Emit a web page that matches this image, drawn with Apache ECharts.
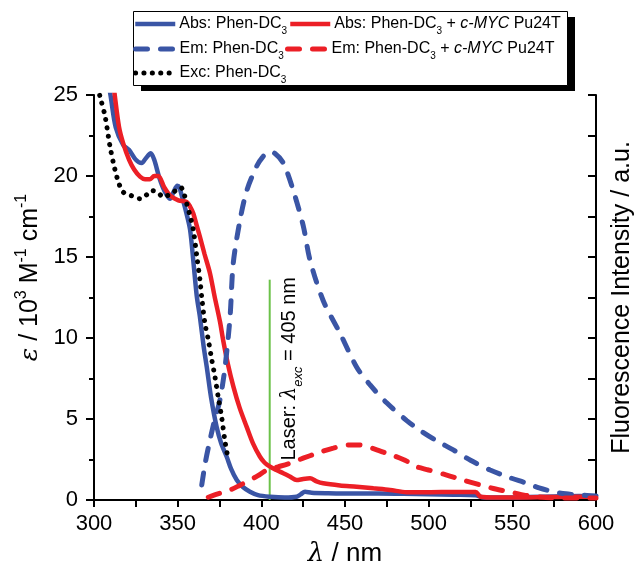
<!DOCTYPE html>
<html>
<head>
<meta charset="utf-8">
<script src="https://cdn.jsdelivr.net/npm/echarts@6/dist/echarts.min.js"></script>
<style>
html,body{margin:0;padding:0;background:#fff;}
#c{width:638px;height:564px;}
</style>
</head>
<body>
<div id="c"></div>
<script>
// ---- data (wavelength nm, value) ----
const absPhen = [[305,28],[310,24.9],[313,23.0],[317.5,21.9],[321,21.6],[325,21.0],[328.5,20.8],[331,21.1],[333.9,21.4],[336,21.0],[339,19.9],[342,19.1],[345.4,18.6],[347.5,19.0],[349.8,19.4],[351,19.3],[352.4,18.8],[355,17.8],[357.4,16.7],[359.5,14.6],[361.4,12.6],[363.3,11.3],[365.5,9.5],[367.4,8.2],[370,6.3],[373.3,4.5],[376,3.5],[379.3,2.67],[382,1.9],[385.3,1.23],[389,0.8],[393.2,0.51],[398,0.3],[405.2,0.2],[414,0.15],[421.1,0.2],[423.5,0.35],[426.1,0.51],[430,0.45],[440,0.42],[455,0.4],[470,0.4],[485,0.38],[500,0.36],[515,0.33],[528,0.3],[533,0.15],[545,0.15],[560,0.18],[575,0.22],[590,0.25],[600,0.22]];
const absComplex = [[309,28],[312.5,24.9],[315,23.0],[317.5,22.0],[321,21.0],[324,20.4],[327.5,19.96],[330.5,19.8],[333.5,19.8],[336,20.0],[338.4,20.0],[342,19.3],[345.4,18.8],[350.4,18.5],[355.4,18.4],[357.5,18.1],[359.3,17.7],[361.5,16.9],[363.3,16.25],[366,15.2],[369.3,14.0],[372,12.6],[375.3,11.0],[377.3,9.8],[380,8.4],[383.3,7.0],[387,5.7],[391.3,4.5],[395,3.5],[399.2,2.67],[402,2.3],[405.2,2.06],[409,1.85],[413.1,1.65],[417,1.45],[421.1,1.23],[425,1.3],[429.1,1.34],[433,1.15],[437,1.03],[447,0.9],[457,0.82],[467,0.72],[476.9,0.62],[486.9,0.48],[500,0.48],[515,0.5],[528,0.5],[531,0.2],[540,0.15],[555,0.15],[570,0.18],[585,0.2],[600,0.2]];
const emPhen = [[364.4,0.93],[366.5,2.3],[369.3,3.7],[372,4.9],[375.3,6.2],[378.3,8.2],[381.3,11.3],[383.2,14.6],[387.3,17.3],[391.3,19.1],[397.2,20.6],[401,21.2],[404.5,21.5],[408,21.4],[413.1,20.8],[419.1,19.1],[425.1,16.9],[429.1,14.8],[437,12.3],[447,10.3],[457,8.2],[465,7.1],[474.9,6.0],[486.9,4.9],[494.8,4.3],[504,3.7],[514.7,3.09],[525,2.45],[536.7,1.85],[548,1.4],[558.6,1.03],[566,0.75],[574.5,0.51],[582,0.38],[590.4,0.31],[600,0.25]];
const emComplex = [[368.3,0.17],[374,0.38],[381.3,0.62],[387,0.9],[393.2,1.23],[398,1.5],[403.2,1.85],[410,2.05],[417.1,2.27],[425,2.58],[433.1,2.88],[443,3.2],[453,3.4],[458,3.4],[463,3.3],[469,3.1],[474.9,2.88],[480,2.7],[486.9,2.4],[490.8,2.12],[500,1.85],[510.8,1.54],[520,1.25],[530.7,0.93],[540,0.68],[550.6,0.45],[557,0.3],[564.6,0.2],[575,0.14],[590,0.12],[600,0.12]];
const excPhen = [[301,26],[303.6,24.9],[306.6,23.7],[309.6,21.8],[312.5,20.4],[315,19.5],[317.5,19.0],[322,18.8],[327.5,18.6],[331,18.8],[334.5,19.1],[338,19.0],[341.4,18.7],[344,18.8],[347.4,19.0],[351.8,19.3],[353.5,19.0],[355.4,18.3],[357.5,17.5],[359.3,16.7],[361.5,15.0],[363.3,13.6],[364.4,12.5],[366.3,10.9],[368.3,9.9],[370.3,8.7],[372.3,7.6],[374.3,6.3],[376.3,5.1],[378.3,3.6],[380.3,2.47]];
const laserLine = [[405,0],[405,13.6]];
const xTicks = [300, 600, 50];
const yTicks = [0, 25, 5];
const seriesNames = ['Abs: Phen-DC{s|3}','Abs: Phen-DC{s|3} + {i|c-MYC} Pu24T','Em: Phen-DC{s|3}','Em: Phen-DC{s|3} + {i|c-MYC} Pu24T','Exc: Phen-DC{s|3}'];

const BLUE = '#3a55a5', RED = '#ec1f26', GREEN = '#6cc24a';
const FF = 'Liberation Sans, Arial, sans-serif';
const SOLID = {width: 4.5, type: 'solid', cap: 'butt'};
const DASH = {width: 5, type: [12, 13], cap: 'round'};
const DOT = {width: 5, type: [0.1, 8.3], cap: 'round'};
const chart = echarts.init(document.getElementById('c'));

const richLeg = {
  s: {fontSize: 10, fontFamily: FF, verticalAlign: 'bottom', lineHeight: 12, padding:[0,0,-4,0]},
  i: {fontSize: 16, fontFamily: FF, fontStyle: 'italic'}
};
function leg(name, left, top, color, ls) {
  return {
    data: [{name: name, icon: 'inherit'}], left: left, top: top, padding: 0, itemWidth: 40, itemHeight: 12,
    itemGap: 0, selectedMode: false, z: 20, icon: 'inherit',
    itemStyle: {opacity: 0},
    lineStyle: Object.assign({color: color, inactiveColor: color}, ls),
    textStyle: {fontSize: 16, fontFamily: FF, color: '#000', rich: richLeg, padding:[0,0,0,-1]}
  };
}
const axisBlack = {lineStyle: {color: '#000', width: 2}};

chart.setOption({
  animation: false,
  textStyle: {fontFamily: FF},
  grid: {left: 94, top: 95, right: 42, bottom: 64, containLabel: false, outerBoundsMode: 'none'},
  legend: [
    leg(seriesNames[0], 133, 16, BLUE, SOLID),
    leg(seriesNames[1], 288, 16, RED, SOLID),
    leg(seriesNames[2], 133, 41, BLUE, DASH),
    leg(seriesNames[3], 285, 41, RED, DASH),
    leg(seriesNames[4], 133, 65, '#000', DOT)
  ],
  xAxis: [
    {type: 'value', position: 'bottom', min: xTicks[0], max: xTicks[1], interval: xTicks[2],
     axisLine: axisBlack, splitLine: {show: false},
     axisTick: {inside: false, length: 7, lineStyle: {color: '#000', width: 2}},
     minorTick: {show: true, splitNumber: 2, length: 4, lineStyle: {color: '#000', width: 2}},
     axisLabel: {fontSize: 22, color: '#000', margin: 13, fontFamily: FF},
     name: '{i|λ} / nm', nameLocation: 'middle', nameGap: 41,
     nameTextStyle: {fontSize: 26, color: '#000', fontFamily: FF, rich: {i: {fontSize: 26, fontStyle: 'italic', fontFamily: 'DejaVu Serif'}}}},
    {type: 'value', position: 'top', min: xTicks[0], max: xTicks[1], interval: 25,
     axisLine: axisBlack, splitLine: {show: false},
     axisTick: {inside: true, length: 7, lineStyle: {color: '#000', width: 2}},
     axisLabel: {show: false}}
  ],
  yAxis: [
    {type: 'value', position: 'left', min: yTicks[0], max: yTicks[1], interval: yTicks[2],
     axisLine: axisBlack, splitLine: {show: false},
     axisTick: {inside: false, length: 8, lineStyle: {color: '#000', width: 2}},
     minorTick: {show: true, splitNumber: 2, length: 5, lineStyle: {color: '#000', width: 2}},
     axisLabel: {fontSize: 22, color: '#000', margin: 16, fontFamily: FF},
     name: '{i|ε} / 10{p|3} M{p|-1} cm{p|-1}', nameLocation: 'middle', nameRotate: 90, nameGap: 43,
     nameTextStyle: {fontSize: 25, color: '#000', fontFamily: FF, padding: [0, 0, 0, 40],
       rich: {i: {fontSize: 25, fontStyle: 'italic', fontFamily: 'DejaVu Serif'},
              p: {fontSize: 16, verticalAlign: 'top', lineHeight: 16, padding: [-4, 0, 0, 0], fontFamily: FF}}}},
    {type: 'value', position: 'right', min: yTicks[0], max: yTicks[1], interval: 2.5,
     axisLine: axisBlack, splitLine: {show: false},
     axisTick: {inside: true, length: 8, lineStyle: {color: '#000', width: 2}},
     axisLabel: {show: false},
     name: 'Fluorescence Intensity / a.u.', nameLocation: 'middle', nameRotate: 90, nameGap: 14,
     nameTextStyle: {fontSize: 25, color: '#000', fontFamily: FF}}
  ],
  series: [
    {name: 'laser', type: 'line', data: laserLine, symbol: 'none', xAxisIndex: 0, yAxisIndex: 0,
     lineStyle: {color: GREEN, width: 2}, z: 1},
    {name: seriesNames[0], type: 'line', data: absPhen, symbol: 'none', smooth: 0.3, xAxisIndex: 0, yAxisIndex: 0,
     color: BLUE, lineStyle: Object.assign({color: BLUE}, SOLID), z: 2},
    {name: seriesNames[1], type: 'line', data: absComplex, symbol: 'none', smooth: 0.3, xAxisIndex: 0, yAxisIndex: 0,
     color: RED, lineStyle: Object.assign({color: RED}, SOLID), z: 3},
    {name: seriesNames[2], type: 'line', data: emPhen, symbol: 'none', smooth: 0.3, xAxisIndex: 0, yAxisIndex: 1,
     color: BLUE, lineStyle: Object.assign({color: BLUE}, DASH), z: 4},
    {name: seriesNames[3], type: 'line', data: emComplex, symbol: 'none', smooth: 0.3, xAxisIndex: 0, yAxisIndex: 1,
     color: RED, lineStyle: Object.assign({color: RED}, DASH), z: 5},
    {name: seriesNames[4], type: 'line', data: excPhen, symbol: 'none', smooth: 0.3, xAxisIndex: 0, yAxisIndex: 0,
     color: '#000', lineStyle: Object.assign({color: '#000'}, DOT), z: 6}
  ]
});

const p = chart.convertToPixel({xAxisIndex: 0, yAxisIndex: 0}, [417, 8.1]);
chart.setOption({
  graphic: [
    {type: 'rect', shape: {x: 141, y: 17, width: 434, height: 74}, style: {fill: '#000'}, z: 1},
    {type: 'rect', shape: {x: 133.5, y: 11.5, width: 434, height: 74}, style: {fill: '#fff', stroke: '#000', lineWidth: 1}, z: 2},
    {type: 'text', x: p[0], y: p[1], rotation: Math.PI / 2, z: 30,
     style: {text: 'Laser: {i|λ}{s|exc} = 405 nm', fontSize: 20, fontFamily: FF, fill: '#000',
       align: 'center', verticalAlign: 'middle',
       rich: {i: {fontSize: 20, fontStyle: 'italic', fontFamily: 'DejaVu Serif', fill: '#000'},
              s: {fontSize: 13, fontStyle: 'italic', fontFamily: FF, verticalAlign: 'bottom', lineHeight: 13, padding: [0,0,-5,0], fill: '#000'}}}}
  ]
});
</script>
</body>
</html>
